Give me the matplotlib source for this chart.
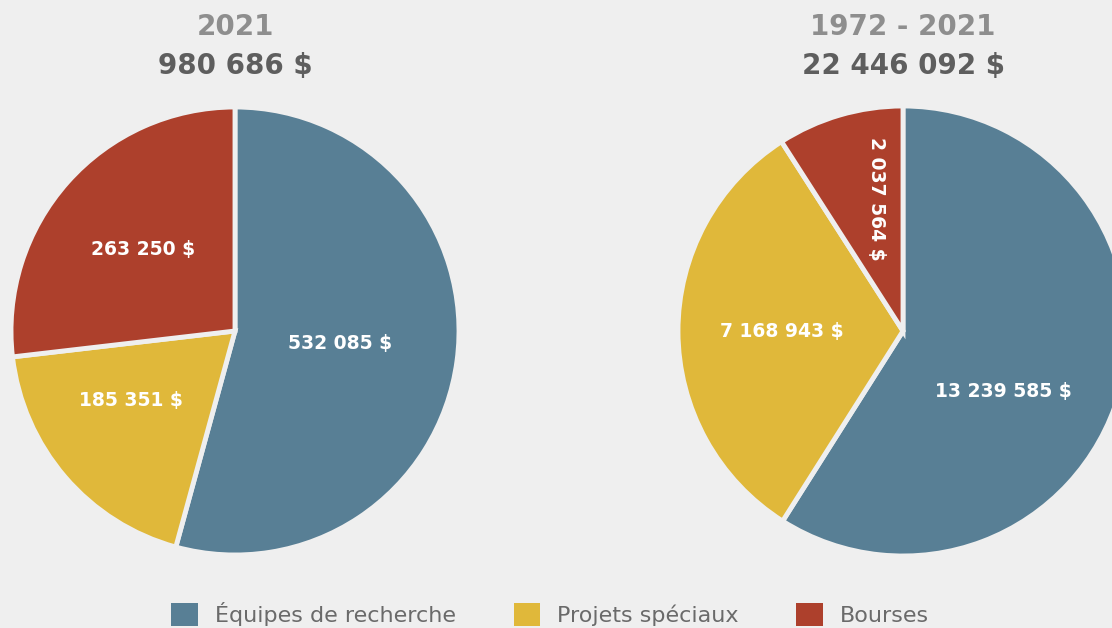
import numpy as np
import matplotlib.pyplot as plt
from matplotlib.patches import Patch

categories = ['Équipes de recherche', 'Projets spéciaux', 'Bourses']
colors = ['#587f95', '#e0b83a', '#ad402c']

years_2021 = '2021'
total_2021 = '980 686 $'
values_2021 = [532085, 185351, 263250]
labels_2021 = ['532 085 $', '185 351 $', '263 250 $']

years_all = '1972 - 2021'
total_all = '22 446 092 $'
values_all = [13239585, 7168943, 2037564]
labels_all = ['13 239 585 $', '7 168 943 $', '2 037 564 $']

BG = '#efefef'


def draw_pie(ax, values, labels, center, radius, dists, shifts, rots):
    wedges, _ = ax.pie(values, colors=colors, startangle=90, counterclock=False,
                       center=center, radius=radius,
                       wedgeprops=dict(edgecolor=BG, linewidth=3.5))
    for w, lab, d, s, r in zip(wedges, labels, dists, shifts, rots):
        ang = np.deg2rad((w.theta1 + w.theta2) / 2 + s)
        x = center[0] + d * radius * np.cos(ang)
        y = center[1] + d * radius * np.sin(ang)
        ax.text(x, y, lab, color='white', fontsize=13.5, fontweight='bold',
                ha='center', va='center', rotation=r)


fig = plt.figure(figsize=(11.12, 6.28), dpi=100, facecolor=BG)
ax = fig.add_axes([0, 0, 1, 1])
ax.set_facecolor(BG)

draw_pie(ax, values_2021, labels_2021, (235, 297), 224,
         [0.47, 0.56, 0.55], [1, -7, 0], [0, 0, 0])
draw_pie(ax, values_all, labels_all, (903, 297), 225,
         [0.52, 0.54, 0.6], [-15, 0, -5], [0, 0, -90])

for cx, t1, t2 in [(235, years_2021, total_2021), (903, years_all, total_all)]:
    ax.text(cx, 601, t1, color='#8e8e8e', fontsize=20, fontweight='bold',
            ha='center', va='center')
    ax.text(cx, 562, t2, color='#5e5e5e', fontsize=20, fontweight='bold',
            ha='center', va='center')

handles = [Patch(facecolor=c, edgecolor='none') for c in colors]
ax.legend(handles, categories, loc='center', bbox_to_anchor=(550, 14),
          bbox_transform=ax.transData, ncol=3, frameon=False, fontsize=16,
          handlelength=1.2, handleheight=1.2, handletextpad=0.75,
          columnspacing=2.6, labelcolor='#6a6a6a')

ax.set_xlim(0, 1112)
ax.set_ylim(0, 628)
ax.set_aspect('equal')
ax.axis('off')

fig.savefig('out.png', dpi=100, facecolor=BG)
